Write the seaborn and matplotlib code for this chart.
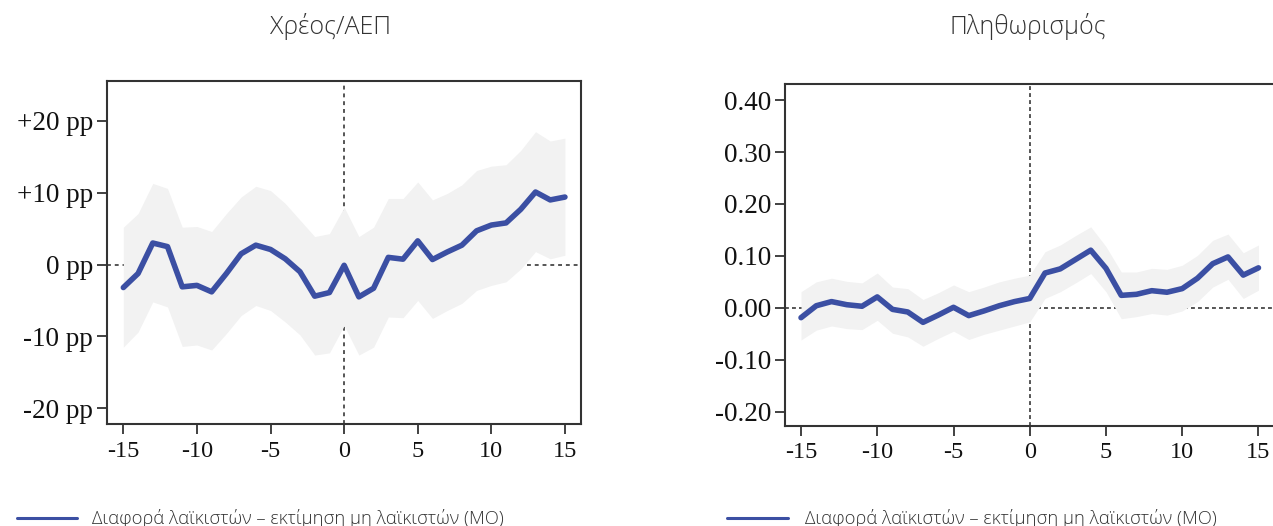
import numpy as np
import pandas as pd
import matplotlib
matplotlib.use("Agg")
import matplotlib.pyplot as plt
import seaborn as sns

# ---------------- data ----------------
years = list(range(-15, 16))

debt_mean = [-3.2, -1.25, 3.0, 2.5, -3.1, -2.9, -3.8, -1.25, 1.5, 2.7, 2.1, 0.8, -1.0, -4.4, -3.9,
             -0.1, -4.5, -3.3, 1.0, 0.75, 3.3, 0.7, 1.75, 2.7, 4.7, 5.5, 5.8, 7.7, 10.1, 9.0, 9.4]
debt_upper = [5.2, 7.1, 11.3, 10.6, 5.2, 5.3, 4.6, 7.1, 9.4, 10.9, 10.3, 8.5, 6.2, 3.9, 4.3,
              8.0, 3.9, 5.2, 9.2, 9.2, 11.5, 9.0, 9.9, 11.1, 13.1, 13.7, 13.9, 15.9, 18.5, 17.2, 17.6]
debt_lower = [-11.5, -9.4, -5.2, -5.9, -11.4, -11.2, -11.9, -9.6, -7.1, -5.7, -6.4, -8.0, -9.8, -12.6, -12.3,
              -8.5, -12.6, -11.5, -7.3, -7.4, -5.0, -7.5, -6.4, -5.4, -3.6, -2.9, -2.4, -0.6, 1.8, 0.8, 1.3]

infl_mean = [-0.019, 0.004, 0.012, 0.006, 0.003, 0.021, -0.003, -0.008, -0.028, -0.014, 0.001, -0.015,
             -0.006, 0.004, 0.012, 0.018, 0.067, 0.075, 0.093, 0.111, 0.076, 0.024, 0.026, 0.033, 0.030,
             0.037, 0.057, 0.085, 0.098, 0.063, 0.077]
infl_upper = [0.031, 0.050, 0.057, 0.051, 0.048, 0.067, 0.040, 0.037, 0.016, 0.029, 0.044, 0.031,
              0.040, 0.050, 0.057, 0.063, 0.108, 0.121, 0.139, 0.156, 0.118, 0.069, 0.069, 0.076, 0.074,
              0.082, 0.101, 0.130, 0.142, 0.106, 0.121]
infl_lower = [-0.062, -0.043, -0.035, -0.040, -0.042, -0.024, -0.049, -0.056, -0.074, -0.059, -0.045, -0.061,
              -0.051, -0.043, -0.035, -0.027, 0.018, 0.031, 0.048, 0.066, 0.031, -0.021, -0.017, -0.011, -0.014,
              -0.006, 0.012, 0.040, 0.055, 0.018, 0.034]

x_ticks = [-15, -10, -5, 0, 5, 10, 15]
debt_yticks = [-20, -10, 0, 10, 20]
debt_ylabels = ["-20 pp", "-10 pp", "0 pp", "+10 pp", "+20 pp"]
infl_yticks = [-0.2, -0.1, 0.0, 0.1, 0.2, 0.3, 0.4]
infl_ylabels = ["-0.20", "-0.10", "0.00", "0.10", "0.20", "0.30", "0.40"]

titles = ["Χρέος/ΑΕΠ", "Πληθωρισμός"]
legend_label = "Διαφορά λαϊκιστών – εκτίμηση μη λαϊκιστών (ΜΟ)"

# ---------------- style ----------------
sns.set_theme(style="white")
plt.rcParams["font.family"] = ["Liberation Serif", "DejaVu Serif"]

LINE_C = "#3b4fa3"
BAND_C = "#f2f2f2"
DOT_C = "#555555"
SANS = ["Open Sans", "Noto Sans", "DejaVu Sans"]

W, H = 1273, 526
fig = plt.figure(figsize=(W / 100, H / 100), dpi=100)
axL = fig.add_axes([106.7 / W, (H - 424) / H, 474 / W, 343.3 / H])
axR = fig.add_axes([785 / W, (H - 425.7) / H, 489.5 / W, 341.7 / H])


def draw(ax, mean, lo, hi, xlim, ylim, yticks, ylabels, dash):
    df = pd.DataFrame({"t": years, "v": mean})
    ax.axhline(0, color=DOT_C, lw=1.4, ls=(0, dash), zorder=1)
    ax.axvline(0, color=DOT_C, lw=1.4, ls=(0, dash), zorder=1)
    ax.fill_between(years, lo, hi, color=BAND_C, lw=0, zorder=2)
    sns.lineplot(data=df, x="t", y="v", ax=ax, color=LINE_C, lw=4.0, zorder=3,
                 solid_joinstyle="round", solid_capstyle="round")
    ax.set_xlim(*xlim)
    ax.set_ylim(*ylim)
    ax.set_xticks(x_ticks)
    ax.set_xticklabels([str(v) for v in x_ticks])
    ax.set_yticks(yticks)
    ax.set_yticklabels(ylabels)
    ax.set_xlabel("")
    ax.set_ylabel("")
    ax.tick_params(axis="both", which="major", direction="out", length=7, width=1.3,
                   color="#333333", labelcolor="#111111", left=True, bottom=True)
    ax.tick_params(axis="y", labelsize=19.5, pad=3)
    ax.tick_params(axis="x", labelsize=17.5, pad=5)
    for s in ax.spines.values():
        s.set_color("#333333")
        s.set_linewidth(1.5)


draw(axL, debt_mean, debt_lower, debt_upper, (-16.13, 16.07), (-22.2, 25.6),
     debt_yticks, debt_ylabels, (2, 2))
draw(axR, infl_mean, infl_lower, infl_upper, (-16.05, 16.05), (-0.227, 0.431),
     infl_yticks, infl_ylabels, (2, 1.6))

# titles
fig.text(331 / W, 1 - 27 / H, titles[0], ha="center", va="center",
         fontsize=18, color="#333333", family=SANS, fontweight="light")
fig.text(1028 / W, 1 - 27 / H, titles[1], ha="center", va="center",
         fontsize=18, color="#333333", family=SANS, fontweight="light")

# legends
for x0, x1, tx in [(17, 77, 92), (727, 788, 805)]:
    fig.add_artist(plt.Line2D([x0 / W, x1 / W], [1 - 518 / H, 1 - 518 / H],
                              color=LINE_C, lw=2.2, transform=fig.transFigure))
    fig.text(tx / W, 1 - 518 / H, legend_label, ha="left", va="center",
             fontsize=13.2, color="#333333", family=SANS, fontweight="light")

fig.savefig("out.png", dpi=100, facecolor="white")
